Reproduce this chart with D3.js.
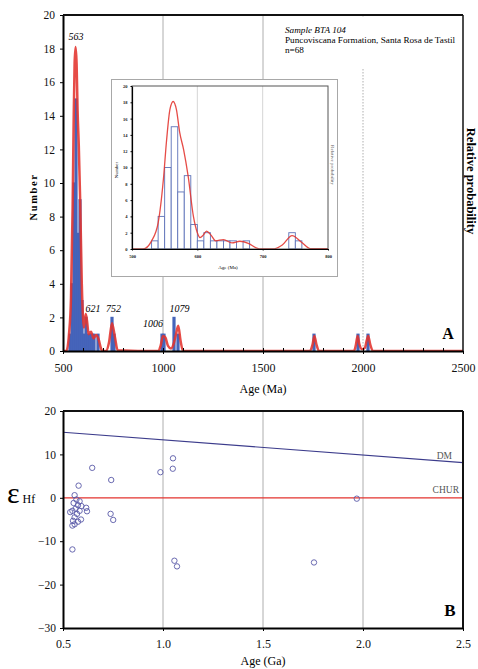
<!DOCTYPE html>
<html>
<head>
<meta charset="utf-8">
<script src="https://cdn.jsdelivr.net/npm/d3@7"></script>
<style>
  body { margin: 0; background: #fff; }
  svg { display: block; font-family: "Liberation Serif", "Times New Roman", serif; }
  .axis path, .axis line { stroke: #000; }
  .axis text { fill: #111; }
</style>
</head>
<body>
<svg id="chart" width="478" height="669"></svg>
<script>
// ---- panel A : detrital zircon ages ----
const binStarts = [530, 540, 550, 560, 570, 580, 590, 600, 610, 620, 630, 640, 650, 670,
                   740, 750, 990, 1000, 1050, 1070, 1750, 1970, 2020];
const binCounts = [1, 4, 10, 15, 7, 9, 3, 1, 2, 1, 1, 1, 1, 1,
                   2, 1, 1, 1, 2, 1, 1, 1, 1];
const binWidth = 10;

// relative probability curve, scaled to the count axis
const probAges = [500, 517, 530, 540, 548, 553, 558, 563, 568, 573, 579, 586, 594, 600, 604,
                  609, 614, 621, 628, 640, 653, 665, 678, 690, 698, 715, 730, 745, 760, 773,
                  975, 988, 1000, 1012, 1025, 1040, 1055, 1065, 1076, 1088, 1100,
                  1735, 1748, 1757, 1767, 1780, 1955, 1965, 1973, 1982, 1995, 2010, 2018,
                  2026, 2036, 2050, 2500];
const probValues = [0, 0, 1, 3.2, 8.5, 13.4, 17.1, 18.1, 17.1, 14.3, 12.2, 8.9, 4, 2, 1.4,
                    1.7, 2.2, 1.7, 1.0, 1.15, 0.75, 0.95, 0.7, 0.15, 0, 0, 0.5, 1.65, 0.8, 0.05,
                    0, 0.3, 0.9, 0.8, 0.3, 0.15, 0.5, 1.0, 1.5, 0.6, 0,
                    0, 0.4, 0.9, 0.4, 0, 0, 0.4, 0.9, 0.4, 0.1, 0.2, 0.6,
                    0.9, 0.4, 0, 0];

const peakNames = ["563", "621", "752", "1006", "1079"];
const peakAges = [565, 650, 753, 950, 1083];
const peakLevels = [18.5, 2.3, 2.3, 1.4, 2.35];

const ageTicks = [500, 1000, 1500, 2000, 2500];
const countTicks = [0, 2, 4, 6, 8, 10, 12, 14, 16, 18, 20];
const insetAgeTicks = [500, 600, 700, 800];
const sampleLines = ["Sample BTA 104", "Puncoviscana Formation, Santa Rosa de Tastil", "n=68"];

// ---- panel B : Hf isotopes ----
const hfAges = [0.646, 0.741, 0.738, 0.751, 0.616, 0.620, 0.547, 0.987, 1.050, 1.049, 1.057,
                1.070, 1.755, 1.969, 0.578, 0.558, 0.567, 0.583, 0.553, 0.575, 0.592, 0.563,
                0.547, 0.583, 0.570, 0.536, 0.558, 0.590, 0.550, 0.575, 0.558, 0.547];
const hfValues = [6.9, 4.1, -3.7, -5.1, -2.3, -3.1, -11.9, 5.9, 9.1, 6.7, -14.5,
                  -15.8, -14.9, -0.2, 2.8, 0.6, -0.4, -0.8, -1.2, -1.7, -1.9, -2.5,
                  -3.0, -3.0, -3.7, -3.3, -4.5, -5.0, -5.3, -5.5, -6.1, -6.4];
const refAges = [0.5, 2.5];
const dmValues = [15.1, 8.1];
const churValues = [0, 0];
const gaTicks = [0.5, 1.0, 1.5, 2.0, 2.5];
const epsTicks = [20, 10, 0, -10, -20, -30];

const bins = binStarts.map((s, i) => ({ start: s, count: binCounts[i] }));
const prob = probAges.map((a, i) => ({ age: a, value: probValues[i] }));
const hf = hfAges.map((a, i) => ({ age: a, value: hfValues[i] }));

const svg = d3.select("#chart");
const red = "#e3332e";
const grid = "#9a9a9a";

// d3 axes put a sans-serif font on their group; take it off again
function serifAxis(g, size, weight) {
    g.attr("font-family", null).attr("font-size", null);
    g.selectAll("text").attr("font-size", size).attr("font-weight", weight || null);
}

function histogram(g, x, y, opts) {
    g.selectAll("rect.bar")
        .data(bins.filter(d => d.start < x.domain()[1]))
        .join("rect")
        .attr("class", "bar")
        .attr("x", d => x(d.start))
        .attr("width", d => x(d.start + binWidth) - x(d.start))
        .attr("y", d => y(d.count))
        .attr("height", d => y(0) - y(d.count))
        .attr("fill", opts.fill)
        .attr("stroke", opts.stroke)
        .attr("stroke-width", opts.strokeWidth);

    const line = d3.line()
        .x(d => x(d.age))
        .y(d => y(d.value))
        .curve(d3.curveMonotoneX);
    g.append("path")
        .datum(prob)
        .attr("d", line)
        .attr("fill", "none")
        .attr("stroke", red)
        .attr("stroke-width", opts.lineWidth)
        .attr("stroke-opacity", 0.88);
}

// ================= panel A =================
const A = { left: 63, right: 463, top: 15, bottom: 351 };
const xA = d3.scaleLinear().domain([500, 2500]).range([A.left, A.right]);
const yA = d3.scaleLinear().domain([0, 20]).range([A.bottom, A.top]);

const gA = svg.append("g");

// vertical guide lines
gA.selectAll("line.grid")
    .data([1000, 1500, 2000])
    .join("line")
    .attr("x1", d => xA(d)).attr("x2", d => xA(d))
    .attr("y1", A.top).attr("y2", A.bottom)
    .attr("stroke", grid)
    .attr("stroke-width", 0.8)
    .attr("stroke-dasharray", d => d === 2000 ? "1.5,1.5" : null);

// white box behind the sample text
gA.append("rect")
    .attr("x", 282).attr("y", A.top + 2)
    .attr("width", 175).attr("height", 52)
    .attr("fill", "#fff");

svg.append("clipPath").attr("id", "clipA")
    .append("rect").attr("x", A.left).attr("y", A.top - 5)
    .attr("width", A.right - A.left).attr("height", A.bottom - A.top + 5);

histogram(gA.append("g").attr("clip-path", "url(#clipA)"), xA, yA,
    { fill: "#4866bd", stroke: "#4563b8", strokeWidth: 1.2, lineWidth: 2.5 });

// minor ticks every 100 Ma (inward)
gA.append("g")
    .attr("class", "axis")
    .attr("transform", `translate(0,${A.bottom})`)
    .call(d3.axisTop(xA).tickValues(d3.range(600, 2500, 100)).tickSize(3).tickFormat(""))
    .call(g => g.select(".domain").remove());

gA.append("g")
    .attr("class", "axis")
    .attr("transform", `translate(0,${A.bottom})`)
    .call(d3.axisBottom(xA).tickValues(ageTicks).tickFormat(d3.format("d"))
        .tickSizeInner(3).tickSizeOuter(0).tickPadding(9))
    .call(g => g.select(".domain").attr("stroke-width", 2))
    .call(g => serifAxis(g, 12));

gA.append("g")
    .attr("class", "axis")
    .attr("transform", `translate(${A.left},0)`)
    .call(d3.axisLeft(yA).tickValues(countTicks).tickSizeInner(3).tickSizeOuter(0).tickPadding(5))
    .call(g => g.select(".domain").attr("stroke-width", 2))
    .call(g => serifAxis(g, 11.5));

// top and right frame
gA.append("line").attr("x1", A.left).attr("x2", A.right).attr("y1", A.top).attr("y2", A.top)
    .attr("stroke", "#111").attr("stroke-width", 2);
gA.append("line").attr("x1", A.right).attr("x2", A.right).attr("y1", A.top).attr("y2", A.bottom)
    .attr("stroke", "#111").attr("stroke-width", 1.5);

// peak labels
gA.selectAll("text.peak")
    .data(peakNames)
    .join("text")
    .attr("class", "peak")
    .attr("x", (d, i) => xA(peakAges[i]))
    .attr("y", (d, i) => yA(peakLevels[i]))
    .attr("text-anchor", "middle")
    .attr("font-size", 10)
    .attr("font-style", "italic")
    .text(d => d);

// sample description
gA.selectAll("text.sample")
    .data(sampleLines)
    .join("text")
    .attr("class", "sample")
    .attr("x", 285)
    .attr("y", (d, i) => 33 + i * 10)
    .attr("font-size", 9.2)
    .attr("font-style", (d, i) => i === 0 ? "italic" : null)
    .text(d => d);

gA.append("text").attr("x", 448).attr("y", 339).attr("text-anchor", "middle")
    .attr("font-size", 16).attr("font-weight", "bold").text("A");

gA.append("text").attr("x", xA(1500)).attr("y", 393).attr("text-anchor", "middle")
    .attr("font-size", 12).text("Age (Ma)");

gA.append("text")
    .attr("transform", `translate(37,${(A.top + A.bottom) / 2 + 14}) rotate(-90)`)
    .attr("text-anchor", "middle")
    .attr("font-size", 10.5).attr("font-weight", "bold").attr("letter-spacing", 1.6)
    .text("Number");

gA.append("text")
    .attr("transform", `translate(467,181) rotate(90)`)
    .attr("text-anchor", "middle")
    .attr("font-size", 12.5).attr("font-weight", "bold")
    .text("Relative probability");

// ---------------- inset ----------------
const I = { left: 132, right: 328, top: 86, bottom: 249 };
const gI = svg.append("g");
gI.append("rect")
    .attr("x", 111.5).attr("y", 79.5).attr("width", 226).attr("height", 197)
    .attr("fill", "#fff").attr("stroke", "#a8a8a8").attr("stroke-width", 1);

const xI = d3.scaleLinear().domain([500, 800]).range([I.left, I.right]);
const yI = d3.scaleLinear().domain([0, 20]).range([I.bottom, I.top]);

gI.selectAll("line.grid")
    .data([600, 700])
    .join("line")
    .attr("x1", d => xI(d)).attr("x2", d => xI(d))
    .attr("y1", I.top).attr("y2", I.bottom)
    .attr("stroke", "#c4c4c4").attr("stroke-width", 0.7);

svg.append("clipPath").attr("id", "clipI")
    .append("rect").attr("x", I.left).attr("y", I.top)
    .attr("width", I.right - I.left).attr("height", I.bottom - I.top);

histogram(gI.append("g").attr("clip-path", "url(#clipI)"), xI, yI,
    { fill: "#fff", stroke: "#5d72b8", strokeWidth: 0.9, lineWidth: 1.3 });

gI.append("rect")
    .attr("x", I.left).attr("y", I.top).attr("width", I.right - I.left).attr("height", I.bottom - I.top)
    .attr("fill", "none").attr("stroke", "#555").attr("stroke-width", 1);

gI.append("g")
    .attr("class", "axis")
    .attr("transform", `translate(0,${I.bottom})`)
    .call(d3.axisBottom(xI).tickValues(insetAgeTicks).tickSizeInner(1.5).tickSizeOuter(0).tickPadding(4))
    .call(g => g.select(".domain").attr("stroke-width", 1.2))
    .call(g => serifAxis(g, 4.5, "bold"));

gI.append("g")
    .attr("class", "axis")
    .attr("transform", `translate(${I.left},0)`)
    .call(d3.axisLeft(yI).tickValues(countTicks).tickSizeInner(1.5).tickSizeOuter(0).tickPadding(3))
    .call(g => g.select(".domain").attr("stroke-width", 1.2))
    .call(g => serifAxis(g, 4.5, "bold"));

gI.append("text").attr("x", xI(650) - 2).attr("y", 269).attr("text-anchor", "middle")
    .attr("font-size", 5).text("Age (Ma)");
gI.append("text")
    .attr("transform", `translate(118,170) rotate(-90)`)
    .attr("text-anchor", "middle").attr("font-size", 5).text("Number");
gI.append("text")
    .attr("transform", `translate(331,165) rotate(90)`)
    .attr("text-anchor", "middle").attr("font-size", 5).attr("fill", "#555")
    .text("Relative probability");

// ================= panel B =================
const B = { left: 63, right: 463, top: 411, bottom: 628 };
const xB = d3.scaleLinear().domain([0.5, 2.5]).range([B.left, B.right]);
const yB = d3.scaleLinear().domain([-30, 20]).range([B.bottom, B.top]);
const gB = svg.append("g");

gB.selectAll("line.grid")
    .data([1.0, 1.5, 2.0])
    .join("line")
    .attr("x1", d => xB(d)).attr("x2", d => xB(d))
    .attr("y1", B.top).attr("y2", B.bottom)
    .attr("stroke", grid).attr("stroke-width", 0.8);

const refLine = d3.line().x(d => xB(d[0])).y(d => yB(d[1]));
gB.append("path")
    .attr("d", refLine(refAges.map((a, i) => [a, churValues[i]])))
    .attr("stroke", red).attr("stroke-width", 1.3).attr("fill", "none");
gB.append("path")
    .attr("d", refLine(refAges.map((a, i) => [a, dmValues[i]])))
    .attr("stroke", "#3c3c8c").attr("stroke-width", 1.2).attr("fill", "none");

gB.selectAll("circle")
    .data(hf)
    .join("circle")
    .attr("cx", d => xB(d.age))
    .attr("cy", d => yB(d.value))
    .attr("r", 2.7)
    .attr("fill", "none")
    .attr("stroke", "#5a5aa8")
    .attr("stroke-width", 0.9);

gB.append("g")
    .attr("class", "axis")
    .attr("transform", `translate(0,${B.bottom})`)
    .call(d3.axisBottom(xB).tickValues(gaTicks).tickFormat(d3.format(".1f"))
        .tickSizeInner(3).tickSizeOuter(0).tickPadding(8))
    .call(g => g.select(".domain").attr("stroke-width", 2))
    .call(g => serifAxis(g, 12));

gB.append("g")
    .attr("class", "axis")
    .attr("transform", `translate(${B.left},0)`)
    .call(d3.axisLeft(yB).tickValues(epsTicks).tickSizeInner(3).tickSizeOuter(0).tickPadding(4))
    .call(g => g.select(".domain").attr("stroke-width", 2))
    .call(g => serifAxis(g, 11.5));

gB.append("line").attr("x1", B.left).attr("x2", B.right).attr("y1", B.top).attr("y2", B.top)
    .attr("stroke", "#111").attr("stroke-width", 2);
gB.append("line").attr("x1", B.right).attr("x2", B.right).attr("y1", B.top).attr("y2", B.bottom)
    .attr("stroke", "#111").attr("stroke-width", 2);

gB.append("text").attr("x", 452).attr("y", yB(dmValues[1]) - 4).attr("text-anchor", "end")
    .attr("font-size", 9.5).attr("fill", "#555").text("DM");
gB.append("text").attr("x", 459).attr("y", yB(0) - 5).attr("text-anchor", "end")
    .attr("font-size", 9.5).attr("fill", "#555").text("CHUR");

gB.append("text").attr("x", 450).attr("y", 616).attr("text-anchor", "middle")
    .attr("font-size", 17).attr("font-weight", "bold").text("B");

gB.append("text").attr("x", xB(1.5)).attr("y", 665).attr("text-anchor", "middle")
    .attr("font-size", 12).text("Age (Ga)");

const eps = gB.append("text").attr("x", 7).attr("y", 503);
eps.append("tspan").attr("font-size", 30).text("ε");
eps.append("tspan").attr("font-size", 12).attr("dx", 3).text("Hf");
</script>
</body>
</html>
